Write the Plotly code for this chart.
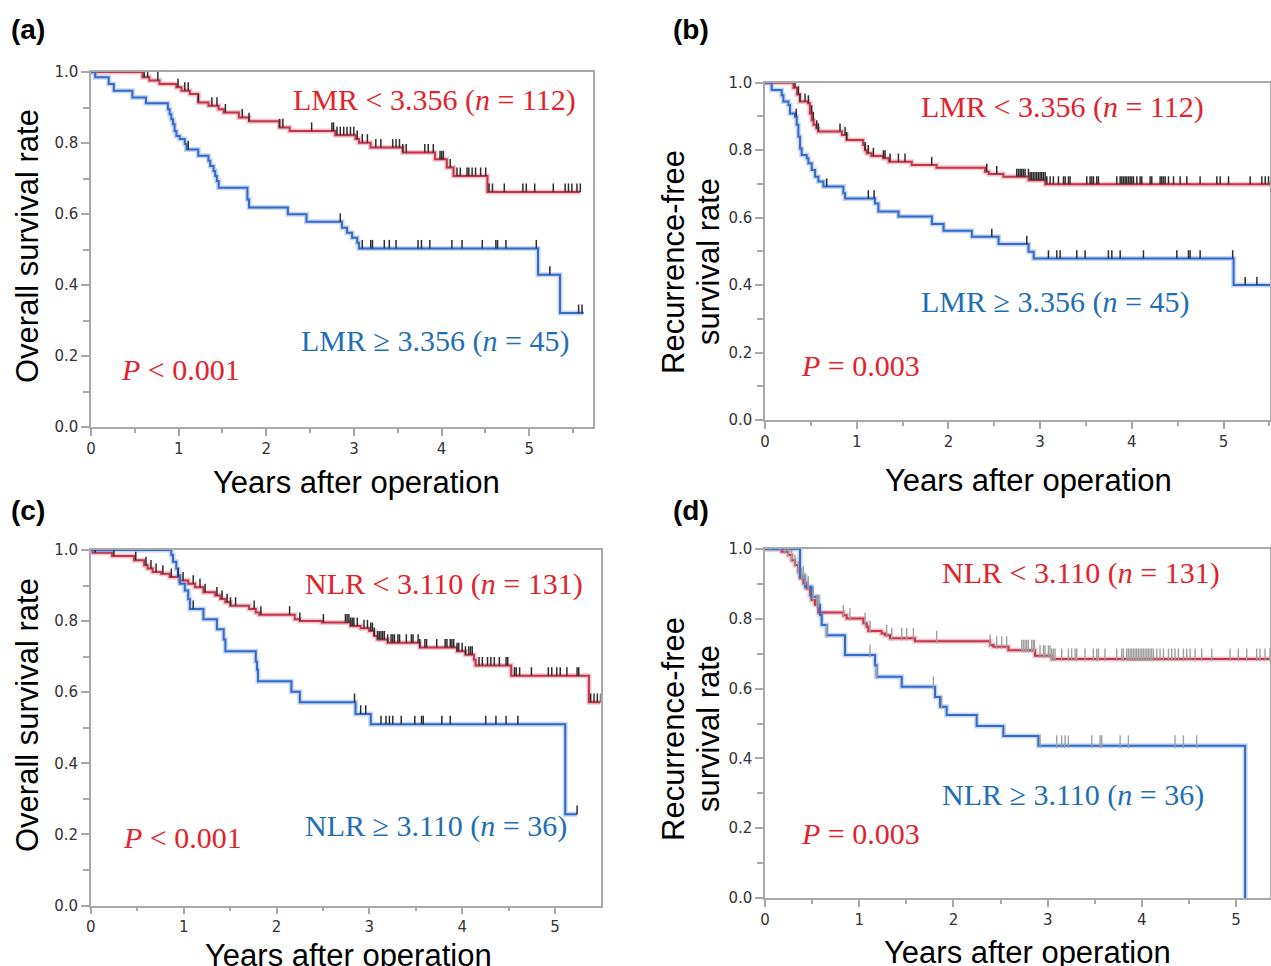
import numpy as np
import plotly.graph_objects as go

W, H = 1271, 966

# ---------------- Panel (a): OS by LMR ----------------
a_red_t = [0, 0.588, 0.665, 0.781, 0.974, 1.032, 1.128, 1.224, 1.34, 1.456, 1.514, 1.687, 1.803,
           2.15, 2.266, 2.787, 3.018, 3.057, 3.19, 3.557, 3.924, 4.059, 4.136, 4.522, 5.58]
a_red_s = [1.0, 0.985, 0.976, 0.966, 0.957, 0.947, 0.938, 0.914, 0.905, 0.895, 0.886, 0.872, 0.861,
           0.844, 0.834, 0.822, 0.811, 0.801, 0.787, 0.773, 0.754, 0.731, 0.707, 0.662, 0.662]
a_red_cens = [0.607, 0.646, 0.762, 0.993, 1.07, 1.109, 1.224, 1.379, 1.437, 1.533, 1.726, 1.803, 2.15,
              2.189, 2.517, 2.748, 2.767, 2.806, 2.844, 2.883, 2.921, 2.96, 2.998, 3.037, 3.095, 3.153,
              3.249, 3.307, 3.442, 3.48, 3.519, 3.557, 3.596, 3.808, 3.847, 3.905, 3.982, 4.001, 4.02,
              4.098, 4.175, 4.213, 4.29, 4.31, 4.348, 4.387, 4.445, 4.503, 4.541, 4.58, 4.715, 4.927,
              4.966, 5.062, 5.274, 5.409, 5.447, 5.486, 5.544, 5.582]
a_blue_t = [0, 0.048, 0.202, 0.26, 0.472, 0.627, 0.877, 0.897, 0.916, 0.935, 0.954, 0.974, 1.012,
            1.07, 1.09, 1.224, 1.34, 1.36, 1.398, 1.417, 1.436, 1.456, 1.784, 1.803, 2.246, 2.458,
            2.863, 2.921, 2.979, 3.037, 3.057, 5.10, 5.351, 5.62]
a_blue_s = [1.0, 0.985, 0.966, 0.947, 0.928, 0.912, 0.895, 0.881, 0.867, 0.853, 0.834, 0.820, 0.811,
            0.797, 0.782, 0.764, 0.750, 0.735, 0.721, 0.707, 0.693, 0.674, 0.641, 0.618, 0.599, 0.578,
            0.561, 0.547, 0.533, 0.519, 0.503, 0.429, 0.321, 0.321]
a_blue_cens = [1.109, 2.844, 3.095, 3.191, 3.211, 3.346, 3.403, 3.48, 3.731, 3.77, 3.866, 4.117, 4.233,
               4.464, 4.619, 4.638, 4.734, 5.08, 5.235, 5.563, 5.602]

# ---------------- Panel (b): RFS by LMR ----------------
b_red_t = [0, 0.31, 0.35, 0.38, 0.47, 0.49, 0.51, 0.53, 0.56, 0.58, 0.84, 0.89, 1.07, 1.09, 1.11,
           1.16, 1.29, 1.35, 1.60, 1.87, 2.40, 2.44, 2.60, 2.875, 3.056, 5.51]
b_red_s = [1.0, 0.985, 0.965, 0.944, 0.939, 0.909, 0.889, 0.875, 0.865, 0.855, 0.845, 0.830, 0.815,
           0.800, 0.791, 0.783, 0.776, 0.766, 0.756, 0.748, 0.736, 0.729, 0.721, 0.711, 0.699, 0.699]
b_red_cens = [0.327, 0.364, 0.382, 0.436, 0.473, 0.509, 0.527, 0.564, 0.582, 0.818, 0.873, 0.891,
              1.091, 1.127, 1.182, 1.291, 1.309, 1.364, 1.455, 1.527, 1.818, 2.418, 2.527, 2.745,
              2.764, 2.782, 2.8, 2.818, 2.836, 2.873, 2.891, 2.909, 2.927, 2.945, 2.964, 2.982, 3.0,
              3.018, 3.036, 3.055, 3.073, 3.109, 3.145, 3.2, 3.255, 3.273, 3.309, 3.327, 3.509,
              3.545, 3.564, 3.582, 3.618, 3.636, 3.836, 3.873, 3.891, 3.909, 3.927, 3.945, 3.964,
              3.982, 4.0, 4.018, 4.055, 4.091, 4.109, 4.2, 4.218, 4.309, 4.327, 4.345, 4.364, 4.4,
              4.455, 4.527, 4.6, 4.745, 4.927, 4.964, 5.055, 5.291, 5.418, 5.455, 5.491]
b_blue_t = [0, 0.073, 0.182, 0.2, 0.255, 0.273, 0.327, 0.346, 0.364, 0.382, 0.40, 0.455, 0.473,
            0.51, 0.546, 0.582, 0.637, 0.855, 0.873, 1.20, 1.237, 1.456, 1.82, 1.947, 2.256, 2.547,
            2.874, 2.93, 5.11, 5.51]
b_blue_s = [1.0, 0.978, 0.963, 0.944, 0.934, 0.909, 0.899, 0.875, 0.840, 0.805, 0.786, 0.776, 0.761,
            0.741, 0.721, 0.707, 0.692, 0.672, 0.657, 0.642, 0.618, 0.603, 0.581, 0.561, 0.543, 0.522,
            0.499, 0.479, 0.400, 0.400]
b_blue_cens = [0.34, 0.673, 1.127, 1.19, 2.473, 2.855, 3.091, 3.182, 3.218, 3.4, 3.491, 3.745, 3.782,
               3.873, 4.127, 4.491, 4.618, 4.636, 4.745, 5.10, 5.236, 5.364]

# ---------------- Panel (c): OS by NLR ----------------
c_red_t = [0, 0.02, 0.229, 0.466, 0.575, 0.612, 0.666, 0.757, 0.849, 0.958, 1.049, 1.122, 1.213,
           1.34, 1.395, 1.449, 1.504, 1.704, 1.777, 1.814, 2.196, 2.251, 2.487, 2.797, 2.906, 2.997,
           3.052, 3.088, 3.197, 3.543, 3.944, 4.035, 4.126, 4.144, 4.527, 5.364, 5.49]
c_red_s = [1.0, 0.992, 0.983, 0.971, 0.957, 0.948, 0.938, 0.933, 0.924, 0.914, 0.905, 0.895, 0.881,
           0.872, 0.862, 0.853, 0.843, 0.834, 0.824, 0.818, 0.805, 0.800, 0.796, 0.786, 0.780, 0.772,
           0.758, 0.748, 0.739, 0.726, 0.715, 0.705, 0.691, 0.675, 0.646, 0.572, 0.572]
c_red_cens = [0.047, 0.248, 0.484, 0.594, 0.648, 0.703, 0.776, 0.867, 0.94, 0.994, 1.103, 1.176,
              1.231, 1.358, 1.413, 1.468, 1.504, 1.559, 1.759, 1.832, 2.141, 2.251, 2.505, 2.742,
              2.76, 2.779, 2.797, 2.815, 2.833, 2.87, 2.942, 2.979, 3.015, 3.033, 3.052, 3.088,
              3.106, 3.125, 3.143, 3.161, 3.197, 3.234, 3.252, 3.27, 3.307, 3.325, 3.398, 3.452,
              3.47, 3.525, 3.543, 3.598, 3.616, 3.725, 3.816, 3.835, 3.871, 3.889, 3.908, 3.944,
              3.962, 3.999, 4.035, 4.071, 4.09, 4.108, 4.181, 4.217, 4.272, 4.308, 4.345, 4.399,
              4.472, 4.49, 4.563, 4.581, 4.618, 4.745, 4.927, 4.964, 5.018, 5.055, 5.127, 5.237,
              5.255, 5.383, 5.419, 5.455, 5.49]
c_blue_t = [0, 0.867, 0.885, 0.921, 0.94, 0.958, 1.012, 1.049, 1.067, 1.213, 1.358, 1.431, 1.449,
            1.777, 1.79, 1.80, 2.16, 2.251, 2.851, 3.015, 5.109, 5.237]
c_blue_s = [1.0, 0.986, 0.967, 0.948, 0.929, 0.905, 0.886, 0.862, 0.834, 0.805, 0.777, 0.748, 0.715,
            0.686, 0.663, 0.631, 0.601, 0.572, 0.539, 0.510, 0.257, 0.257]
c_blue_cens = [1.103, 2.84, 2.906, 2.961, 3.125, 3.179, 3.216, 3.252, 3.343, 3.489, 3.562, 3.58, 3.78,
               3.871, 4.253, 4.363, 4.472, 4.599, 5.237]

# ---------------- Panel (d): RFS by NLR ----------------
d_red_t = [0, 0.177, 0.248, 0.283, 0.318, 0.354, 0.372, 0.407, 0.442, 0.478, 0.495, 0.531, 0.566,
           0.832, 0.867, 1.044, 1.079, 1.097, 1.238, 1.274, 1.327, 1.592, 2.389, 2.424, 2.583,
           2.866, 3.043, 5.36]
d_red_s = [1.0, 0.992, 0.983, 0.968, 0.954, 0.935, 0.916, 0.902, 0.887, 0.868, 0.854, 0.840, 0.818,
           0.810, 0.801, 0.787, 0.777, 0.765, 0.758, 0.753, 0.744, 0.736, 0.725, 0.720, 0.710,
           0.694, 0.685, 0.685]
d_red_cens = [0.053, 0.159, 0.212, 0.248, 0.283, 0.318, 0.354, 0.389, 0.425, 0.46, 0.513, 0.548,
              0.832, 0.902, 1.062, 1.115, 1.292, 1.345, 1.451, 1.504, 1.575, 1.822, 2.389, 2.459,
              2.512, 2.565, 2.725, 2.742, 2.76, 2.778, 2.795, 2.831, 2.849, 2.86, 2.919, 2.955,
              2.972, 3.008, 3.025, 3.043, 3.061, 3.079, 3.149, 3.22, 3.255, 3.291, 3.309, 3.397,
              3.485, 3.521, 3.539, 3.609, 3.733, 3.786, 3.804, 3.839, 3.857, 3.875, 3.892, 3.91,
              3.928, 3.945, 3.963, 3.981, 3.999, 4.016, 4.034, 4.052, 4.069, 4.087, 4.105, 4.123,
              4.158, 4.193, 4.229, 4.282, 4.317, 4.352, 4.388, 4.441, 4.476, 4.512, 4.565, 4.635,
              4.742, 4.936, 5.024, 5.113, 5.219, 5.254, 5.307, 5.36]
d_blue_t = [0, 0.372, 0.425, 0.495, 0.566, 0.584, 0.602, 0.655, 0.849, 1.168, 1.185, 1.451, 1.805,
            1.858, 1.928, 2.247, 2.530, 2.902, 5.096]
d_blue_s = [1.0, 0.921, 0.892, 0.863, 0.839, 0.811, 0.782, 0.753, 0.696, 0.667, 0.634, 0.605, 0.576,
            0.548, 0.524, 0.493, 0.464, 0.436, 0.0]
d_blue_cens = [0.407, 0.46, 0.513, 0.566, 0.655, 1.115, 1.185, 1.787, 1.875, 2.919, 3.096, 3.149,
               3.185, 3.22, 3.468, 3.556, 3.574, 3.769, 3.857, 4.352, 4.441, 4.582]

x_tickvals = [0, 1, 2, 3, 4, 5]
y_tickvals = [0.0, 0.2, 0.4, 0.6, 0.8, 1.0]

# ---------------- styling ----------------
RED_CORE, RED_HALO = "#c5344a", "rgba(225,110,128,0.40)"
BLUE_CORE, BLUE_HALO = "#356ac6", "rgba(90,140,225,0.35)"
TXT_RED, TXT_BLUE = "#e3232b", "#1e6fb8"
AXC = "#a9a9a9"
TICKFONT = dict(family="DejaVu Sans", size=15, color="#333333")

panels = [
    dict(n="", dom_x=(91, 593), dom_y=(72, 427), xr=5.727,
         red=(a_red_t, a_red_s, a_red_cens), blue=(a_blue_t, a_blue_s, a_blue_cens),
         cens_col="#2e2e2e", up=0.024, down=0.0, th=1.5),
    dict(n="2", dom_x=(765, 1270), dom_y=(82.7, 420), xr=5.507,
         red=(b_red_t, b_red_s, b_red_cens), blue=(b_blue_t, b_blue_s, b_blue_cens),
         cens_col="#2e2e2e", up=0.024, down=0.0, th=1.5),
    dict(n="3", dom_x=(90.8, 600.6), dom_y=(550, 905.5), xr=5.49,
         red=(c_red_t, c_red_s, c_red_cens), blue=(c_blue_t, c_blue_s, c_blue_cens),
         cens_col="#2e2e2e", up=0.024, down=0.0, th=1.5),
    dict(n="4", dom_x=(765, 1270), dom_y=(549, 898), xr=5.36,
         red=(d_red_t, d_red_s, d_red_cens), blue=(d_blue_t, d_blue_s, d_blue_cens),
         cens_col="#a0a0a0", up=0.03, down=0.006, th=1.4),
]


def step_value(t, s, c):
    idx = np.searchsorted(np.asarray(t), np.asarray(c), side="right") - 1
    return np.asarray(s)[idx]


fig = go.Figure()
layout_axes = {}
for p in panels:
    xa, ya = "x" + p["n"], "y" + p["n"]
    for (t, s, c), core, halo in [(p["red"], RED_CORE, RED_HALO), (p["blue"], BLUE_CORE, BLUE_HALO)]:
        fig.add_trace(go.Scatter(x=t, y=s, mode="lines", xaxis=xa, yaxis=ya, showlegend=False,
                                 hoverinfo="skip", line=dict(shape="hv", color=halo, width=5)))
        fig.add_trace(go.Scatter(x=t, y=s, mode="lines", xaxis=xa, yaxis=ya, showlegend=False,
                                 hoverinfo="skip", line=dict(shape="hv", color=core, width=2)))
    for (t, s, c) in [p["red"], p["blue"]]:
        cy = step_value(t, s, c)
        fig.add_trace(go.Scatter(
            x=c, y=cy, mode="markers", xaxis=xa, yaxis=ya, showlegend=False, hoverinfo="skip",
            marker=dict(size=1, color="rgba(0,0,0,0)"),
            error_y=dict(type="data", symmetric=False, array=[p["up"]] * len(c),
                         arrayminus=[p["down"]] * len(c), thickness=p["th"], width=0,
                         color=p["cens_col"])))
    x0, x1 = p["dom_x"]
    yt, yb = p["dom_y"]
    layout_axes["xaxis" + p["n"]] = dict(
        domain=[x0 / W, x1 / W], anchor=ya, range=[0, p["xr"]], tickvals=x_tickvals,
        automargin=False,
        ticks="outside", ticklen=7, tickwidth=1.5, tickcolor=AXC, showline=True, linecolor=AXC,
        linewidth=1.5, mirror=True, showgrid=False, zeroline=False, tickfont=TICKFONT,
        minor=dict(tickvals=[0.5, 1.5, 2.5, 3.5, 4.5, 5.5], ticks="outside", ticklen=4,
                   tickwidth=1.5, tickcolor=AXC, showgrid=False))
    layout_axes["yaxis" + p["n"]] = dict(
        domain=[1 - yb / H, 1 - yt / H], anchor=xa, range=[0, 1.0], tickvals=y_tickvals,
        automargin=False,
        tickformat=".1f", ticks="outside", ticklen=8, tickwidth=1.5, tickcolor=AXC, showline=True,
        linecolor=AXC, linewidth=1.5, mirror=True, showgrid=False, zeroline=False,
        tickfont=TICKFONT,
        minor=dict(tickvals=[0.1, 0.3, 0.5, 0.7, 0.9], ticks="outside", ticklen=6,
                   tickwidth=1.5, tickcolor=AXC, showgrid=False))

SERIF = "Liberation Serif"
SANS = "Liberation Sans"


def ann(text, x, y, color, size=30, family=SERIF, xanchor="left", angle=0, bold=False):
    return dict(text=("<b>%s</b>" % text) if bold else text, x=x / W, y=1 - y / H,
                xref="paper", yref="paper", xanchor=xanchor, yanchor="middle", showarrow=False,
                textangle=angle, font=dict(family=family, size=size, color=color))


TS = 31
annotations = [
    ann("(a)", 9, 30, "#000", 28, SANS, bold=True),
    ann("(b)", 671, 30, "#000", 28, SANS, bold=True),
    ann("(c)", 9, 510, "#000", 28, SANS, bold=True),
    ann("(d)", 671, 510, "#000", 28, SANS, bold=True),
    # panel (a)
    ann("LMR &lt; 3.356 (<i>n</i> = 112)", 291, 100, TXT_RED),
    ann("LMR ≥ 3.356 (<i>n</i> = 45)", 299, 341, TXT_BLUE),
    ann("<i>P</i> &lt; 0.001", 119, 369, TXT_RED),
    # panel (b)
    ann("LMR &lt; 3.356 (<i>n</i> = 112)", 919, 107, TXT_RED),
    ann("LMR ≥ 3.356 (<i>n</i> = 45)", 919, 302, TXT_BLUE),
    ann("<i>P</i> = 0.003", 799, 365, TXT_RED),
    # panel (c)
    ann("NLR &lt; 3.110 (<i>n</i> = 131)", 303, 584, TXT_RED),
    ann("NLR ≥ 3.110 (<i>n</i> = 36)", 303, 826, TXT_BLUE),
    ann("<i>P</i> &lt; 0.001", 121, 837, TXT_RED),
    # panel (d)
    ann("NLR &lt; 3.110 (<i>n</i> = 131)", 940, 573, TXT_RED),
    ann("NLR ≥ 3.110 (<i>n</i> = 36)", 940, 795, TXT_BLUE),
    ann("<i>P</i> = 0.003", 799, 833, TXT_RED),
    # axis titles
    ann("Overall survival rate", 28, 246, "#000", TS, SANS, "center", -90),
    ann("Overall survival rate", 27, 715, "#000", TS, SANS, "center", -90),
    ann("Recurrence-free", 673, 262, "#000", TS, SANS, "center", -90),
    ann("survival rate", 708, 262, "#000", TS, SANS, "center", -90),
    ann("Recurrence-free", 673, 729, "#000", TS, SANS, "center", -90),
    ann("survival rate", 708, 729, "#000", TS, SANS, "center", -90),
    ann("Years after operation", 356, 482, "#000", TS, SANS, "center"),
    ann("Years after operation", 1028, 480, "#000", TS, SANS, "center"),
    ann("Years after operation", 348, 955, "#000", TS, SANS, "center"),
    ann("Years after operation", 1027, 952, "#000", TS, SANS, "center"),
]

fig.update_layout(width=W, height=H, margin=dict(l=0, r=0, t=0, b=0, autoexpand=False),
                  paper_bgcolor="white", plot_bgcolor="white", showlegend=False,
                  annotations=annotations, **layout_axes)

fig.write_html("out.html", config={"displayModeBar": False},
               post_script="document.body.style.margin='0px';")
